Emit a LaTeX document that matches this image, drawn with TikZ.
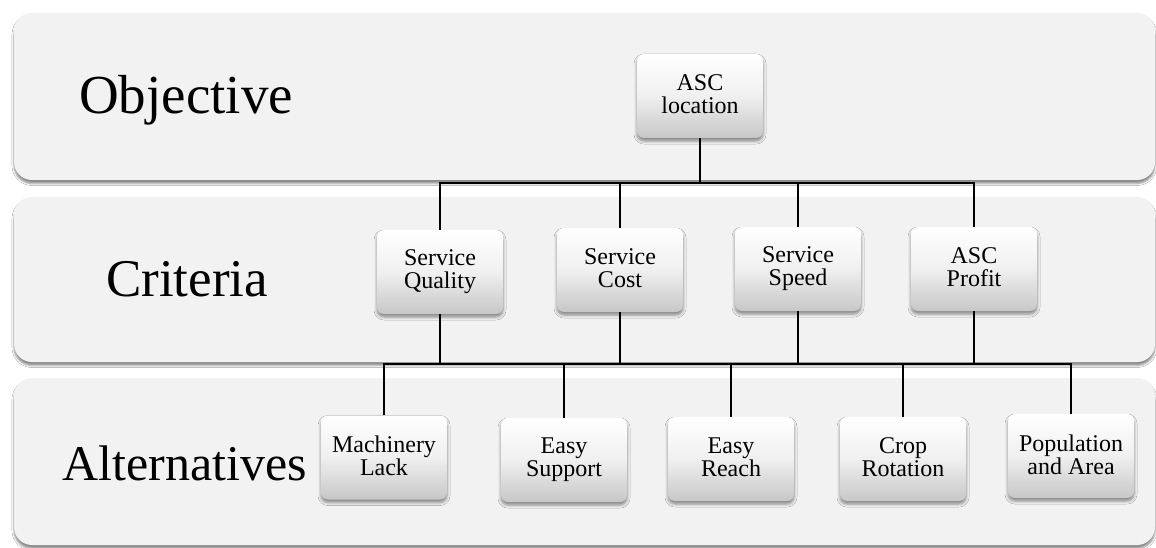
\documentclass[tikz,border=0pt]{standalone}
\usepackage{fontspec}
\setmainfont{Liberation Serif}
\usetikzlibrary{shadows,shadows.blur}

\definecolor{bandgray}{HTML}{F2F2F2}

\tikzset{
  band/.style={fill=bandgray, rounded corners=18pt,
    blur shadow={shadow xshift=0pt, shadow yshift=-3.5pt, shadow blur radius=2pt, shadow opacity=45}},
  bandlabel/.style={anchor=base, inner sep=0pt},
  box/.style={rounded corners=7pt, minimum width=126pt, minimum height=84pt,
    inner sep=0pt, align=center, font=\fontsize{24}{23}\selectfont,
    execute at begin node={\rule{0pt}{20pt}},
    execute at end node={\rule[-3pt]{0pt}{3pt}},
    top color=white, bottom color=black!22, middle color=black!6,
    blur shadow={shadow xshift=0pt, shadow yshift=-3pt, shadow blur radius=3pt, shadow opacity=45}},
  conn/.style={draw=black, line width=1.6pt}
}

\begin{document}
\begin{tikzpicture}[x=1pt, y=-1pt]
  % page frame
  \useasboundingbox[fill=white] (0,0) rectangle (1156,548);

  % the three level bands
  \path[band] (14,13) rectangle (1155,180);
  \path[band] (14,197) rectangle (1155,362);
  \path[band] (14,378) rectangle (1155,545);

  % level titles
  \node[bandlabel, font=\fontsize{55}{60}\selectfont] (lobj) at (186,114) {Objective};
  \node[bandlabel, font=\fontsize{53}{58}\selectfont] (lcrit) at (187,296) {Criteria};
  \node[bandlabel, font=\fontsize{50}{55}\selectfont] (lalt) at (185,480) {Alternatives};

  % goal
  \node[box] (asc) at (700,96) {ASC\\location};

  % criteria
  \node[box] (quality) at (440,272) {Service\\Quality};
  \node[box] (cost)    at (620,270) {Service\\Cost};
  \node[box] (speed)   at (798,269) {Service\\Speed};
  \node[box] (profit)  at (974,269) {ASC\\Profit};

  % alternatives
  \node[box] (mach)    at (384,457.5) {Machinery\\Lack};
  \node[box] (support) at (564,460) {Easy\\Support};
  \node[box] (reach)   at (731,459) {Easy\\Reach};
  \node[box] (crop)    at (903,459) {Crop\\Rotation};
  \node[box] (popu)    at (1071,456) {Population\\and Area};

  % bus rails
  \coordinate (tb) at (0,183);
  \coordinate (bus) at (0,364);

  % goal to criteria
  \draw[conn] (quality.north) -- (quality.north |- tb) -- (profit.north |- tb) -- (profit.north);
  \draw[conn] (asc.south) -- (asc.south |- tb);
  \draw[conn] (cost.north) -- (cost.north |- tb);
  \draw[conn] (speed.north) -- (speed.north |- tb);

  % criteria to alternatives
  \draw[conn] (mach.north) -- (mach.north |- bus) -- (popu.north |- bus) -- (popu.north);
  \draw[conn] (quality.south) -- (quality.south |- bus);
  \draw[conn] (cost.south) -- (cost.south |- bus);
  \draw[conn] (speed.south) -- (speed.south |- bus);
  \draw[conn] (profit.south) -- (profit.south |- bus);
  \draw[conn] (support.north) -- (support.north |- bus);
  \draw[conn] (reach.north) -- (reach.north |- bus);
  \draw[conn] (crop.north) -- (crop.north |- bus);
\end{tikzpicture}
\end{document}
